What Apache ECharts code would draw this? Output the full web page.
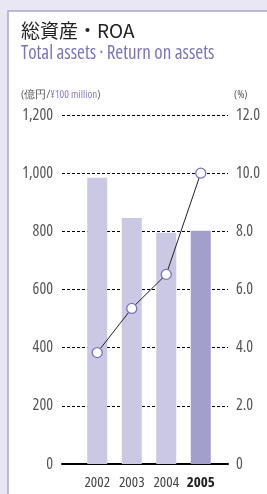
<!DOCTYPE html>
<html>
<head>
<meta charset="utf-8">
<script src="https://cdn.jsdelivr.net/npm/echarts@6/dist/echarts.min.js"></script>
<style>
html, body { margin: 0; padding: 0; background: #e9e7f3; }
#main { width: 267px; height: 494px; }
</style>
</head>
<body>
<div id="main"></div>
<script>
var years = ['2002', '2003', '2004', '2005'];
var totalAssets = [984, 846, 795, 802];
var roa = [3.83, 5.35, 6.52, 10.0];
var leftTicks = [0, 200, 400, 600, 800, 1000, 1200];
var rightTicks = ['0', '2.0', '4.0', '6.0', '8.0', '10.0', '12.0'];

// condensed face of Open Sans, close to the original print font
var narrow = '"Open Sans", sans-serif';
var cond = 'condensed';

var myChart = echarts.init(document.getElementById('main'));
var option = {
	backgroundColor: '#e9e7f3',
	animation: false,
	graphic: [{
		type: 'rect',
		shape: { x: 8, y: 11, width: 270, height: 500 },
		style: { fill: '#ffffff', stroke: '#aaa4d0', lineWidth: 1.5 },
		z: -10
	}],
	title: [{
		text: '総資産・ROA',
		left: 21,
		top: 21,
		padding: 0,
		textStyle: { fontFamily: '"Noto Sans CJK JP", sans-serif', fontSize: 19, fontWeight: 'normal', color: '#222' }
	}, {
		text: 'Total assets\u2009·\u2009Return on assets',
		left: 21,
		top: 44,
		padding: 0,
		textStyle: { fontFamily: narrow, fontStyle: cond, fontSize: 19, fontWeight: 'normal', color: '#7b73bd' }
	}, {
		text: '{g|(億円/}{p|¥100 million}{g|)}',
		left: 21,
		top: 89,
		padding: 0,
		textStyle: {
			fontWeight: 'normal',
			rich: {
				g: { fontFamily: narrow, fontStyle: cond, fontWeight: 'normal', fontSize: 11, color: '#555' },
				p: { fontFamily: narrow, fontStyle: cond, fontWeight: 'normal', fontSize: 11, color: '#8a83c4' }
			}
		}
	}, {
		text: '(%)',
		left: 234,
		top: 89,
		padding: 0,
		textStyle: { fontFamily: narrow, fontStyle: cond, fontSize: 11, fontWeight: 'normal', color: '#555' }
	}],
	grid: [{
		left: 62, right: 39, top: 115, bottom: 30
	}, {
		left: 80, right: 49, top: 115, bottom: 30
	}],
	xAxis: [{
		type: 'category',
		gridIndex: 0,
		data: years,
		axisLine: { lineStyle: { color: '#000', width: 2 } },
		axisTick: { show: false },
		axisLabel: { show: false },
		splitLine: { show: false }
	}, {
		type: 'category',
		gridIndex: 1,
		data: years,
		axisLine: { show: false },
		axisTick: { show: false },
		axisLabel: {
			interval: 0,
			margin: 11,
			fontFamily: narrow,
			fontStyle: cond,
			fontSize: 15,
			color: '#444',
			formatter: function(v) {
				return v === '2005' ? '{b|' + v + '}' : v;
			},
			rich: { b: { fontFamily: narrow, fontStyle: cond, fontSize: 15, fontWeight: 'bold', color: '#222' } }
		}
	}],
	yAxis: [{
		type: 'value',
		gridIndex: 0,
		min: 0, max: 1200, interval: 200,
		axisLine: { show: false },
		axisTick: { show: false },
		axisLabel: {
			margin: 9,
			fontFamily: narrow,
			fontStyle: cond,
			fontSize: 16,
			color: '#555',
			formatter: function(v) { return v.toLocaleString('en-US'); }
		},
		splitLine: { lineStyle: { color: '#000', type: [3, 2], width: 1 } }
	}, {
		type: 'value',
		gridIndex: 0,
		position: 'right',
		min: 0, max: 12, interval: 2,
		axisLine: { show: false },
		axisTick: { show: false },
		axisLabel: {
			margin: 8,
			fontFamily: narrow,
			fontStyle: cond,
			fontSize: 16,
			color: '#555',
			formatter: function(v) { return rightTicks[leftTicks.indexOf(Math.round(v * 100))]; }
		},
		splitLine: { show: false }
	}, {
		type: 'value',
		gridIndex: 1,
		min: 0, max: 1200,
		show: false
	}, {
		type: 'value',
		gridIndex: 1,
		min: 0, max: 12,
		show: false
	}],
	series: [{
		type: 'bar',
		xAxisIndex: 1,
		yAxisIndex: 2,
		barWidth: 20,
		data: totalAssets.map(function(v, i) {
			return { value: v, itemStyle: { color: i === totalAssets.length - 1 ? '#a39fcb' : '#cbc8e4' } };
		}),
		z: 2
	}, {
		type: 'line',
		xAxisIndex: 1,
		yAxisIndex: 3,
		data: roa,
		symbol: 'circle',
		symbolSize: 10,
		lineStyle: { color: '#222', width: 1 },
		itemStyle: { color: '#fff', borderColor: '#7b73bd', borderWidth: 1.3 },
		z: 5
	}]
};
myChart.setOption(option);
</script>
</body>
</html>
